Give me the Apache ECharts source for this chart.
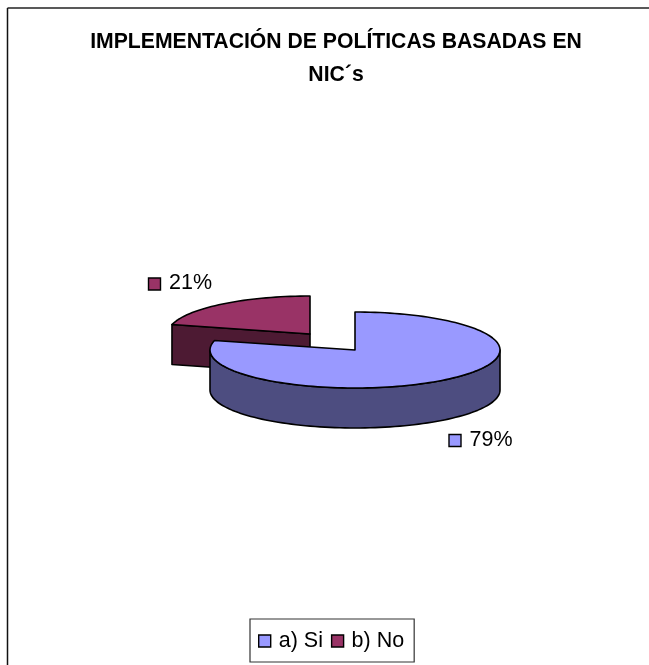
<!DOCTYPE html>
<html>
<head>
<meta charset="utf-8">
<style>html,body{margin:0;padding:0;background:#fff}#c{width:649px;height:665px}</style>
<script src="https://cdn.jsdelivr.net/npm/echarts@6/dist/echarts.min.js"></script>
</head>
<body>
<div id="c"></div>
<script>
const categories = ['a) Si', 'b) No'];
const shares = [79, 21];
const titleLines = ['IMPLEMENTACIÓN DE POLÍTICAS BASADAS EN', 'NIC´s'];

const topColors = ['#9999FF', '#993366'];
const sideColors = ['#4D4D80', '#4D1A33'];

// Tilted pie projection: each slice has its own apex because the "No" slice is pulled out.
const radiiX = [145, 142.5], radiusY = 38, depth = 40;
const apexes = [[355, 350], [310, 334]];
const labelBoxes = [[449, 434.5], [148.5, 278]];
const FONT = '"Liberation Sans", Arial, sans-serif';

const total = shares.reduce((a, b) => a + b, 0);

function rimPoint(c, rx, deg) {
  const a = deg * Math.PI / 180;
  return [c[0] + rx * Math.sin(a), c[1] - radiusY * Math.cos(a)];
}
function rimPoints(c, rx, from, to) {
  const pts = [];
  const n = Math.max(2, Math.ceil(Math.abs(to - from) / 2));
  for (let i = 0; i <= n; i++) pts.push(rimPoint(c, rx, from + (to - from) * i / n));
  return pts;
}
const down = p => [p[0], p[1] + depth];

function sliceElements(i) {
  const before = shares.slice(0, i).reduce((a, b) => a + b, 0);
  const from = before / total * 360, to = (before + shares[i]) / total * 360;
  const c = apexes[i], rx = radiiX[i];
  const stroke = { stroke: '#000', lineWidth: 1.6, lineJoin: 'round' };
  const poly = (points, fill) => ({
    type: 'polygon', shape: { points }, style: Object.assign({ fill }, stroke)
  });
  const kids = [];
  // Cut faces seen from the front; only those turned towards the viewer are drawn.
  if (i === 1) {
    const p = rimPoint(c, rx, from);
    kids.push(poly([p, c, down(c), down(p)], sideColors[i]));
  }
  // Outer wall: the front half of the rim, between 90 and 270 degrees.
  const a = Math.max(from, 90), b = Math.min(to, 270);
  if (b > a) {
    const rim = rimPoints(c, rx, a, b);
    kids.push(poly(rim.concat(rim.map(down).reverse()), sideColors[i]));
  }
  kids.push(poly([c].concat(rimPoints(c, rx, from, to)), topColors[i]));
  // Value label with its colour key.
  const box = labelBoxes[i];
  kids.push({
    type: 'rect', shape: { x: box[0], y: box[1], width: 12, height: 12 },
    style: { fill: topColors[i], stroke: '#000', lineWidth: 1.4 }
  });
  kids.push({
    type: 'text', x: box[0] + 20.5, y: box[1] + 5.5,
    style: {
      text: Math.round(shares[i] / total * 100) + '%',
      font: '21.5px ' + FONT, fill: '#000', textVerticalAlign: 'middle'
    }
  });
  return { type: 'group', children: kids };
}

// The pulled-out slice is painted first so the large slice overlaps it.
const series = [1, 0].map(i => ({
  type: 'custom',
  name: categories[i],
  coordinateSystem: 'none',
  silent: true,
  animation: false,
  itemStyle: { color: topColors[i] },
  data: [shares[i]],
  renderItem: () => sliceElements(i)
}));

const chart = echarts.init(document.getElementById('c'), null, { renderer: 'canvas' });
chart.setOption({
  animation: false,
  backgroundColor: '#fff',
  title: {
    text: titleLines.join('\n'),
    left: 331, top: 21, textAlign: 'center',
    textStyle: { fontFamily: FONT, fontWeight: 'bold', fontSize: 21.2, lineHeight: 33, color: '#000' }
  },
  legend: {
    data: categories,
    left: 250, top: 619,
    padding: [10, 10, 9, 8],
    itemGap: 8, itemWidth: 12, itemHeight: 12,
    icon: 'rect', selectedMode: false,
    borderColor: '#333', borderWidth: 1.2, backgroundColor: '#fff',
    itemStyle: { borderColor: '#000', borderWidth: 1.4 },
    textStyle: { fontFamily: FONT, fontSize: 21.5, lineHeight: 24, color: '#000', padding: [0, 0, 0, 3] }
  },
  graphic: [
    { type: 'line', shape: { x1: 7.5, y1: 8, x2: 649, y2: 8 }, style: { stroke: '#222', lineWidth: 1.5 } },
    { type: 'line', shape: { x1: 7.5, y1: 8, x2: 7.5, y2: 665 }, style: { stroke: '#111', lineWidth: 1.5 } }
  ],
  series
});
</script>
</body>
</html>
